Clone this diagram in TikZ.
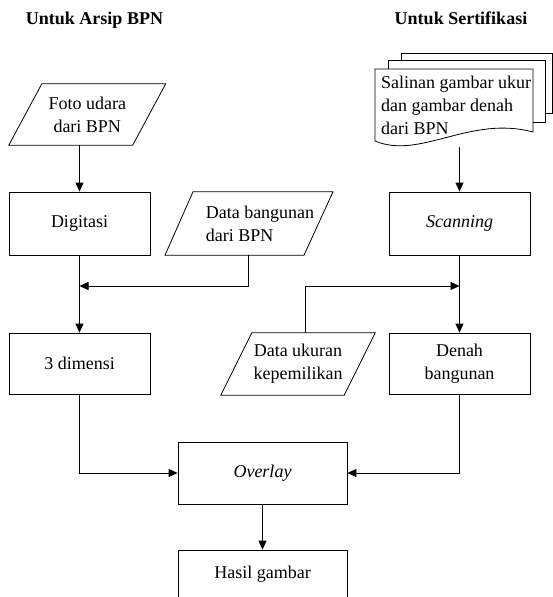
\documentclass[tikz,border=0pt]{standalone}
\usepackage{fontspec}
\setmainfont{Liberation Serif}
\usetikzlibrary{arrows.meta}
\begin{document}
\begin{tikzpicture}[x=1pt,y=-1pt,
  txt/.style={font=\fontsize{18}{23}\selectfont, inner sep=0pt, align=center},
  procbox/.style={txt, draw, line width=0.8pt, minimum width=141pt, minimum height=63pt},
  iobox/.style={txt, minimum height=62pt},
  shp/.style={draw, line width=0.8pt, fill=white},
  ioshape/.style={draw, line width=0.8pt},
  conn/.style={draw, line width=0.8pt},
  arr/.style={conn, -{Triangle[length=9pt,width=8pt]}},
  title/.style={font=\fontsize{18}{22}\selectfont\bfseries, inner sep=0pt, anchor=base}
]
\useasboundingbox (0,0) rectangle (553,597);

% titles
\node[title] (t1) at (94.5,24) {Untuk Arsip BPN};
\node[title] (t2) at (461,24) {Untuk Sertifikasi};

% multiple document shape
\draw[shp] (401,53) rectangle (552.5,113);
\draw[shp] (388,60) rectangle (545,122);
\draw[shp] (375,69) -- (533,69) -- (533,132) .. controls (470,115) and (420,160) .. (375,141) -- cycle;
\node[txt, align=left, anchor=north west] (doc) at (381,75.7) {Salinan gambar ukur\\dan gambar denah\\dari BPN};
\coordinate (docb) at (459.5,147);

% left column
\node[iobox, minimum width=123.5pt, minimum height=61pt] (foto) at (87.25,114.5) {Foto udara\\dari BPN};
\draw[ioshape] ([xshift=-16.5pt]foto.south west) -- ([xshift=-16.5pt]foto.south east)
  -- ([xshift=16.5pt]foto.north east) -- ([xshift=16.5pt]foto.north west) -- cycle;

\node[procbox] (dig) at (79.5,223.5) {Digitasi};
\node[procbox, minimum height=61pt] (dim) at (79.5,363.5) {3 dimensi};

% data bangunan
\node[iobox, align=left, minimum height=63pt] (dbang) at (260,223.5) {Data bangunan\\dari BPN};
\draw[ioshape] ([xshift=-95pt]dbang.south) -- ([xshift=44pt]dbang.south)
  -- ([xshift=73pt]dbang.north) -- ([xshift=-67pt]dbang.north) -- cycle;

% right column
\node[procbox] (scan) at (459.5,223.5) {\itshape Scanning};
\node[procbox, minimum height=61pt] (denah) at (459.5,363.5) {Denah\\bangunan};

% data ukuran
\node[iobox, minimum width=123pt] (dukur) at (298,364) {Data ukuran\\kepemilikan};
\draw[ioshape] ([xshift=-15.5pt]dukur.south west) -- ([xshift=-15.5pt]dukur.south east)
  -- ([xshift=15.5pt]dukur.north east) -- ([xshift=15.5pt]dukur.north west) -- cycle;

% bottom
\node[procbox, minimum width=169pt, minimum height=62pt] (over) at (262.5,473) {\itshape Overlay};
\node[procbox, minimum width=169pt, minimum height=47.5pt] (hasil) at (262.5,573.75) {Hasil gambar};

% junctions
\coordinate (j1) at (79.5,286);
\coordinate (j2) at (459.5,286);

% connectors
\draw[arr] (dig.north |- foto.south) -- (dig.north);
\draw[arr] (dig.south) -- (dim.north);
\draw[arr] ([xshift=-11.25pt]dbang.south) |- (j1);
\draw[arr] (docb) -- (scan.north);
\draw[arr] (scan.south) -- (denah.north);
\draw[arr] ([xshift=7pt]dukur.north) |- (j2);
\draw[arr] (dim.south) |- (over.west);
\draw[arr] (denah.south) |- (over.east);
\draw[arr] (over.south) -- (hasil.north);
\end{tikzpicture}
\end{document}
